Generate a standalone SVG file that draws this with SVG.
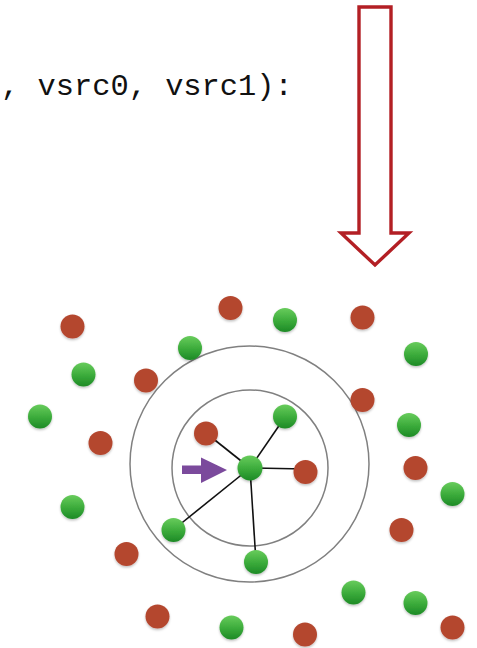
<svg xmlns="http://www.w3.org/2000/svg" width="477" height="648" viewBox="0 0 477 648">
<style>
.code{font-family:"Liberation Mono","DejaVu Sans Mono",monospace;font-size:30.4px;fill:#111}
.ring{fill:none;stroke:#808080;stroke-width:1.5}
.edge{stroke:#111;stroke-width:1.6;fill:none}
.g{fill:url(#gg);filter:url(#sh)}
.r{fill:#b4462f;filter:url(#sh)}
</style>
<defs>
<linearGradient id="gg" x1="0" y1="0" x2="0" y2="1">
<stop offset="0" stop-color="#68cc5c"/>
<stop offset="0.55" stop-color="#3aaa3a"/>
<stop offset="1" stop-color="#1d8a26"/>
</linearGradient>
<filter id="sh" x="-30%" y="-30%" width="160%" height="170%">
<feDropShadow dx="0" dy="1.5" stdDeviation="1.2" flood-color="#000" flood-opacity="0.25"/>
</filter>
</defs>
<text class="code" x="1" y="95" xml:space="preserve">, vsrc0, vsrc1):</text>
<polygon id="big-arrow" points="359,7 391,7 391,233 409,233 375,265 341,233 359,233" fill="none" stroke="#b31f24" stroke-width="3.4" stroke-linejoin="miter"/>
<ellipse class="ring" cx="249.5" cy="464" rx="119.5" ry="118"/>
<circle class="ring" cx="250" cy="468" r="78"/>
<g id="connectors">
<line class="edge" x1="250" y1="468" x2="206" y2="433"/>
<line class="edge" x1="250" y1="468" x2="285" y2="417"/>
<line class="edge" x1="250" y1="468" x2="305" y2="469"/>
<line class="edge" x1="250" y1="468" x2="173" y2="530"/>
<line class="edge" x1="250" y1="468" x2="256" y2="562"/>
</g>
<polygon id="pointer" points="182,465.5 201,465.5 201,457.5 227,470 201,483 201,474 182,474" fill="#7b4a9c"/>
<g id="red-nodes">
<circle class="r" cx="72.5" cy="326.5" r="12"/>
<circle class="r" cx="230.5" cy="308" r="12"/>
<circle class="r" cx="146" cy="380.5" r="12"/>
<circle class="r" cx="362.5" cy="317.5" r="12"/>
<circle class="r" cx="100.5" cy="443" r="12"/>
<circle class="r" cx="206" cy="433.5" r="12"/>
<circle class="r" cx="305.5" cy="472" r="12"/>
<circle class="r" cx="362.5" cy="400" r="12"/>
<circle class="r" cx="415.5" cy="468" r="12"/>
<circle class="r" cx="401.5" cy="530" r="12"/>
<circle class="r" cx="126.5" cy="554" r="12"/>
<circle class="r" cx="157.5" cy="616.5" r="12"/>
<circle class="r" cx="305" cy="634.5" r="12"/>
<circle class="r" cx="452.5" cy="627.5" r="12"/>
</g>
<g id="green-nodes">
<circle class="g" cx="285" cy="320" r="12"/>
<circle class="g" cx="190" cy="348" r="12"/>
<circle class="g" cx="83.5" cy="374.5" r="12"/>
<circle class="g" cx="416" cy="354" r="12"/>
<circle class="g" cx="40" cy="416.5" r="12"/>
<circle class="g" cx="285" cy="416.5" r="12"/>
<circle class="g" id="center" cx="250" cy="468" r="12.5"/>
<circle class="g" cx="409" cy="425" r="12"/>
<circle class="g" cx="452.5" cy="494" r="12"/>
<circle class="g" cx="72.5" cy="507" r="12"/>
<circle class="g" cx="173.5" cy="530" r="12"/>
<circle class="g" cx="256" cy="562" r="12"/>
<circle class="g" cx="353.5" cy="592.5" r="12"/>
<circle class="g" cx="415.5" cy="603" r="12"/>
<circle class="g" cx="231.5" cy="627.5" r="12"/>
</g>
</svg>
